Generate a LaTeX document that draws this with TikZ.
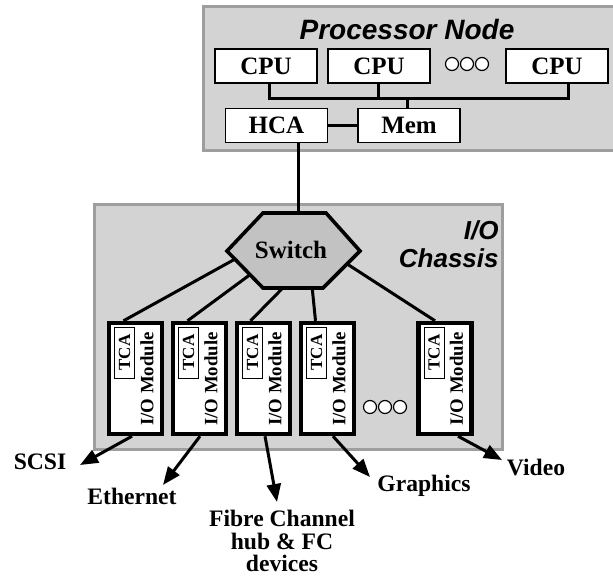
\documentclass[tikz,border=0pt]{standalone}
\usepackage{fontspec}
\setmainfont{Liberation Serif}
\setsansfont{Liberation Sans}
\usetikzlibrary{arrows.meta,calc}
\definecolor{boxgray}{RGB}{211,211,211}
\definecolor{edgegray}{RGB}{158,158,158}
\definecolor{hexgray}{RGB}{194,194,194}

\begin{document}
\begin{tikzpicture}[x=0.5pt,y=-0.5pt]
% Define common styles
\tikzset{
    frame/.style={draw=edgegray, line width=1.5pt, fill=boxgray},
    unit/.style={draw, line width=0.8pt, fill=white, minimum width=51pt, minimum height=17pt, inner sep=0pt, font=\fontsize{12.5}{14}\selectfont\bfseries},
    module/.style={draw, line width=2.2pt, fill=white, minimum width=26.5pt, minimum height=55.5pt, inner sep=0pt},
    tca/.style={draw, line width=0.5pt, rotate=90, minimum width=25.5pt, minimum height=10pt, inner sep=0pt, font=\fontsize{8.5}{9}\selectfont\bfseries},
    modtext/.style={rotate=90, inner sep=0pt, font=\fontsize{9.4}{10}\selectfont\bfseries},
    title/.style={inner sep=0pt, font=\sffamily\bfseries\itshape\fontsize{14}{14}\selectfont},
    switchbox/.style={draw, line width=1.8pt, fill=hexgray},
    wire/.style={line width=1.5pt},
    arrow/.style={-{Triangle[length=9pt,width=7pt]}, line width=1.5pt},
    label/.style={font=\fontsize{11.8}{11.3}\selectfont\bfseries, align=center, inner sep=0pt},
    dot/.style={draw, fill=white, line width=0.6pt, circle, minimum size=6.5pt, inner sep=0pt}
}
\useasboundingbox (0,0) rectangle (613,576);

% Processor node (left side of the bus)
\draw[frame] (203,7) rectangle (616,151);
\node[title] (ptitle) at (407,30) {Processor Node};

\node[unit] (cpu1) at (266,66) {CPU};
\node[unit] (cpu2) at (379,66) {CPU};
\node[unit] (cpu3) at (557,66) {CPU};
\foreach \x [count=\k] in {452,467,482}
    \node[dot] (pdot\k) at (\x,64) {};

\node[unit] (hca) at (276.5,125.5) {HCA};
\node[unit] (mem) at (409,125.5) {Mem};

\draw[wire] ([xshift=1.5pt]cpu1.south) -- ++(0,15) -| ([xshift=5.5pt]cpu3.south);
\draw[wire] ([xshift=-0.5pt]cpu2.south) -- ++(0,15);
\draw[wire] ([xshift=-1pt]mem.north) -- ++(0,-10);
\draw[wire] (hca) -- (mem);

% I/O chassis
\draw[frame] (94,205) rectangle (502,449);
\node[title, align=right, anchor=east, font=\sffamily\bfseries\itshape\fontsize{13}{14}\selectfont] (ctitle) at (499,244) {I/O\\Chassis};

% switch hexagon
\coordinate (hxW) at (227,251);
\coordinate (hxNW) at (263,213);
\coordinate (hxNE) at (326,213);
\coordinate (hxE) at (360,251);
\coordinate (hxSE) at (323,288);
\coordinate (hxSW) at (263,288);
\draw[switchbox] (hxW) -- (hxNW) -- (hxNE) -- (hxE) -- (hxSE) -- (hxSW) -- cycle;
\node[font=\fontsize{12.5}{14}\selectfont\bfseries] (sw) at (291,250) {Switch};

\draw[wire] ([xshift=10.75pt]hca.south) -- ([xshift=10.75pt]hca.south |- hxNW);

% I/O modules
\foreach \i/\x in {1/135.5,2/199.5,3/263.5,4/327.5,5/445}{
    \node[module] (m\i) at (\x,378.5) {};
    \node[tca] (tca\i) at (\x-11,352.5) {TCA};
    \node[modtext] (io\i) at (\x+11.5,379) {I/O Module};
}
\foreach \x [count=\k] in {370,385,400}
    \node[dot] (mdot\k) at (\x,407) {};

\draw[wire] ($(hxW)!0.22!(hxSW)$) -- ([xshift=-6pt]m1.north);
\draw[wire] ($(hxW)!0.64!(hxSW)$) -- ([xshift=-6pt]m2.north);
\draw[wire] ($(hxSW)!0.33!(hxSE)$) -- ([xshift=-6.5pt]m3.north);
\draw[wire] ($(hxSW)!0.82!(hxSE)$) -- ([xshift=-6pt]m4.north);
\draw[wire] ($(hxE)!0.35!(hxSE)$) -- ([xshift=-5pt]m5.north);

% attached devices
\node[label] (scsi) at (40,462) {SCSI};
\node[label] (eth) at (132,496) {Ethernet};
\node[label] (fc) at (282,541) {Fibre Channel\\hub \& FC\\devices};
\node[label] (gfx) at (424,486) {Graphics};
\node[label] (video) at (536,467) {Video};

\coordinate (scsiTip) at (80,465);
\coordinate (ethTip) at (163,485);
\coordinate (fcTip) at (277,502);
\coordinate (gfxTip) at (370,477);
\coordinate (videoTip) at (502,460);

\draw[arrow] ([xshift=-1.75pt]m1.south) -- (scsiTip);
\draw[arrow] ([xshift=0.25pt]m2.south) -- (ethTip);
\draw[arrow] ([xshift=0.75pt]m3.south) -- (fcTip);
\draw[arrow] ([xshift=2.75pt]m4.south) -- (gfxTip);
\draw[arrow] ([xshift=6.5pt]m5.south) -- (videoTip);

\end{tikzpicture}
\end{document}
